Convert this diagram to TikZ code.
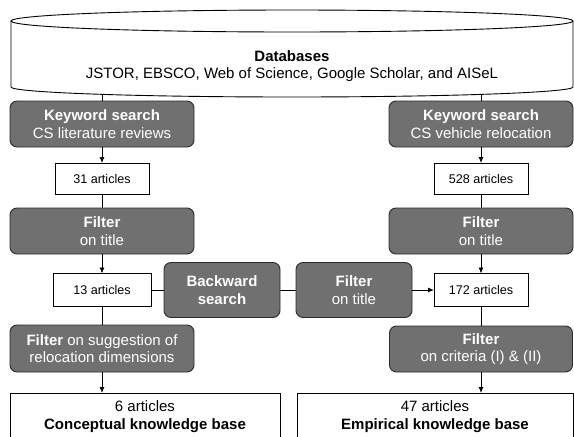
\documentclass[tikz,border=0pt]{standalone}
\usepackage{fontspec}
\setmainfont{Liberation Sans}
\usetikzlibrary{arrows.meta}
\definecolor{boxgray}{HTML}{707070}
\definecolor{edgecol}{HTML}{2b2b2b}
\begin{document}
\begin{tikzpicture}[x=1pt,y=-1pt,
  every node/.style={inner sep=0pt, outer sep=0pt},
  gbox/.style={draw=edgecol, fill=boxgray, rounded corners=7pt, line width=0.9pt, text=white, align=center, font=\fontsize{15}{17.5}\selectfont},
  abox/.style={draw=black, fill=white, line width=0.8pt, align=center, font=\fontsize{12.6}{15}\selectfont},
  kbox/.style={draw=black, fill=white, line width=0.8pt, align=center, font=\fontsize{15}{18}\selectfont},
  conn/.style={draw=black, line width=0.9pt},
  arr/.style={conn, -{Latex[length=6pt,width=5pt]}},
]
\useasboundingbox (0,0) rectangle (574,437);
\clip (0,0) rectangle (574,437);
% database cylinder
\draw[line width=0.9pt, fill=white] (11,21) -- (11,87)
  .. controls (11,92.5) and (136.8,97) .. (292,97)
  .. controls (447.2,97) and (573,92.5) .. (573,87) -- (573,21);
\draw[line width=0.9pt] (292,21) ellipse [x radius=281, y radius=11];
\node[align=center, font=\fontsize{15}{17.5}\selectfont] (db) at (292,66) {\textbf{Databases}\\JSTOR, EBSCO, Web of Science, Google Scholar, and AISeL};
\coordinate (c1) at (102,94.4);
\coordinate (c2) at (481,94.4);
% left column
\node[gbox, minimum width=184pt, minimum height=46pt] (ks1) at (102,124) {\textbf{Keyword search}\\CS literature reviews};
\node[abox, minimum width=94pt, minimum height=31pt] (a31) at (102,178.5) {31 articles};
\node[gbox, minimum width=184pt, minimum height=46pt] (f1) at (102,231) {\textbf{Filter}\\on title};
\node[abox, minimum width=98pt, minimum height=33pt] (a13) at (102,290) {13 articles};
\node[gbox, minimum width=184pt, minimum height=47pt] (fs) at (102,348.5) {\textbf{Filter} on suggestion of\\relocation dimensions};
\node[kbox, minimum width=270pt, minimum height=48pt, anchor=north] (kb1) at (145,393) {6 articles\\\textbf{Conceptual knowledge base}};
% middle
\node[gbox, minimum width=116pt, minimum height=55pt] (bs) at (222,290) {\textbf{Backward}\\\textbf{search}};
\node[gbox, minimum width=116pt, minimum height=55pt] (fm) at (354,290) {\textbf{Filter}\\on title};
% right column
\node[gbox, minimum width=184pt, minimum height=46pt] (ks2) at (481,124) {\textbf{Keyword search}\\CS vehicle relocation};
\node[abox, minimum width=94pt, minimum height=31pt] (a528) at (481,178.5) {528 articles};
\node[gbox, minimum width=184pt, minimum height=46pt] (f2) at (481,231) {\textbf{Filter}\\on title};
\node[abox, minimum width=94pt, minimum height=33pt] (a172) at (481,290) {172 articles};
\node[gbox, minimum width=183pt, minimum height=46pt] (fc) at (481,349) {\textbf{Filter}\\on criteria (I) \& (II)};
\node[kbox, minimum width=276pt, minimum height=48pt, anchor=north] (kb2) at (435,393) {47 articles\\\textbf{Empirical knowledge base}};
% connectors
\draw[conn] (c1) -- (ks1.north);
\draw[conn] (c2) -- (ks2.north);
\draw[arr] (ks1) -- (a31);
\draw[arr] (ks2) -- (a528);
\draw[conn] (a31) -- (f1);
\draw[conn] (a528) -- (f2);
\draw[arr] (f1) -- (a13);
\draw[arr] (f2) -- (a172);
\draw[conn] (a13) -- (bs);
\draw[conn] (bs) -- (fm);
\draw[arr] (fm) -- (a172);
\draw[conn] (a13) -- (fs);
\draw[conn] (a172) -- (fc);
\draw[arr] (fs.south) -- (fs.south |- kb1.north);
\draw[arr] (fc.south) -- (fc.south |- kb2.north);
\end{tikzpicture}
\end{document}
